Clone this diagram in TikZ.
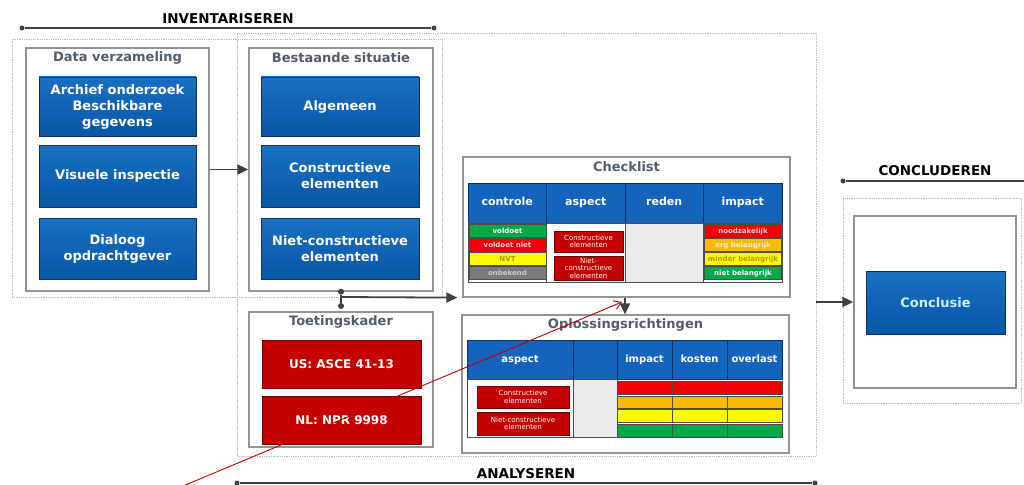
\documentclass[tikz,border=0pt]{standalone}
\usepackage{fontspec}
\setmainfont{DejaVu Sans}
\usetikzlibrary{arrows.meta,calc}

\definecolor{bluetop}{RGB}{26,112,192}
\definecolor{bluebot}{RGB}{8,86,166}
\definecolor{bluedark}{RGB}{14,48,104}
\definecolor{hdrblue}{RGB}{20,100,190}
\definecolor{redmid}{RGB}{196,0,0}
\definecolor{reddark}{RGB}{110,0,0}
\definecolor{titlegray}{RGB}{82,92,108}
\definecolor{cgreen}{RGB}{0,168,72}
\definecolor{cred}{RGB}{240,0,0}
\definecolor{cyellow}{RGB}{255,250,0}
\definecolor{corange}{RGB}{250,186,0}
\definecolor{cgray}{RGB}{122,122,122}
\definecolor{cgold}{RGB}{180,150,0}

\tikzset{
  stage/.style={draw=gray!55, densely dotted, line width=0.8pt, inner sep=0pt},
  panel/.style={draw=gray!85, fill=white, line width=1.3pt, inner sep=0pt},
  paneltitle/.style={text=titlegray, font=\bfseries\fontsize{13}{15}\selectfont},
  bluebox/.style={draw=bluedark, line width=0.8pt, top color=bluetop, bottom color=bluebot,
    text=white, align=center, inner sep=0pt, font=\bfseries\fontsize{13}{16}\selectfont},
  redbox/.style={draw=reddark, line width=0.8pt, fill=redmid, text=white, align=center,
    inner sep=0pt, font=\bfseries\fontsize{12}{14}\selectfont},
  minired/.style={redbox, font=\fontsize{7}{7.5}\selectfont},
  hdrcell/.style={draw=bluedark, line width=1pt, fill=hdrblue, text=white, inner sep=0pt,
    text height=0.75em, text depth=0.22em},
  cell/.style={draw=black!70, line width=0.8pt, inner sep=0pt, font=\bfseries\fontsize{7}{8}\selectfont,
    text height=0.75em, text depth=0.22em},
  phase/.style={font=\bfseries\fontsize{13.5}{15}\selectfont},
  phaseline/.style={draw=black!75, line width=1.1pt},
  dot/.style={circle, fill=black!75, inner sep=0pt, minimum size=6pt},
  arr/.style={-{Triangle[length=11pt,width=10pt]}, draw=black!75, line width=1.8pt},
  redarr/.style={-{Straight Barb[length=7pt,width=9pt]}, draw=red!75!black, line width=0.9pt}
}

\begin{document}
\begin{tikzpicture}[x=1pt, y=-1pt]
\useasboundingbox (0,0) rectangle (1024,484);

% phase areas
\node[stage, minimum width=430pt, minimum height=258pt] (inv) at (227,168) {};
\node[stage, minimum width=579pt, minimum height=423pt] (ana) at (526.5,244.5) {};
\node[stage, minimum width=178pt, minimum height=205pt] (con) at (932,300.5) {};

% phase labels
\node[phase] (inv-lbl) at (228,19) {INVENTARISEREN};
\node[dot, minimum size=5pt] (inv-l) at (22,28) {};
\node[dot, minimum size=5pt] (inv-r) at (434,28) {};
\draw[phaseline] (inv-l) -- (inv-r);

\node[phase] (ana-lbl) at (526,474) {ANALYSEREN};
\node[dot, minimum size=5pt] (ana-l) at (237,483) {};
\node[dot, minimum size=5pt] (ana-r) at (815,483) {};
\draw[phaseline] (ana-l) -- (ana-r);

\node[phase] (con-lbl) at (935,171) {CONCLUDEREN};
\node[dot, minimum size=5pt] (con-l) at (843,181) {};
\coordinate (con-r) at (1024,181);
\draw[phaseline] (con-l) -- (con-r);

% data verzameling
\node[panel, minimum width=183pt, minimum height=243pt] (datapanel) at (117.5,169.5) {};
\node[paneltitle] (datatitle) at (117.5,58) {Data verzameling};
\node[bluebox, minimum width=157pt, minimum height=59pt] (archief) at (117.5,106.5) {Archief onderzoek\\Beschikbare\\gegevens};
\node[bluebox, minimum width=157pt, minimum height=62pt] (visueel) at (117.5,176) {Visuele inspectie};
\node[bluebox, minimum width=157pt, minimum height=61pt] (dialoog) at (117.5,248.5) {Dialoog\\opdrachtgever};

% bestaande situatie
\node[panel, minimum width=184pt, minimum height=243pt] (bestpanel) at (341,169.5) {};
\node[paneltitle] (besttitle) at (341,58) {Bestaande situatie};
\node[bluebox, minimum width=158pt, minimum height=59pt] (algemeen) at (340,106.5) {Algemeen};
\node[bluebox, minimum width=158pt, minimum height=62pt] (constr) at (340,176) {Constructieve\\elementen};
\node[bluebox, minimum width=158pt, minimum height=61pt] (nietconstr) at (340,248.5) {Niet-constructieve\\elementen};

% toetingskader
\node[panel, minimum width=184pt, minimum height=135pt] (toetpanel) at (341,379.5) {};
\node[paneltitle] (toettitle) at (341,322) {Toetingskader};
\node[redbox, minimum width=159pt, minimum height=48pt] (asce) at (341.5,364) {US: ASCE 41-13};
\node[redbox, minimum width=159pt, minimum height=48pt] (npr) at (341.5,420) {NL: NPR 9998};

% checklist
\node[panel, minimum width=327pt, minimum height=140pt] (checkpanel) at (626.5,227) {};
\node[paneltitle] (checktitle) at (626.5,167) {Checklist};
\foreach \t/\f [count=\i from 0] in {controle/white, aspect/white, reden/black!8, impact/white} {
  \node[hdrcell, font=\bfseries\fontsize{11}{13}\selectfont, minimum width=78.5pt, minimum height=40pt]
    (chk-h\i) at ({468+78.5*(\i+0.5)},203) {\t};
  \node[cell, fill=\f, minimum width=78.5pt, minimum height=59pt] (chk-b\i) at ({468+78.5*(\i+0.5)},252.5) {};
}
\foreach \t/\f/\c [count=\j from 0] in {voldoet/cgreen/white, voldoet niet/cred/white!85!red, NVT/cyellow/cgold, onbekend/cgray/white!80!black}
  \node[cell, fill=\f, text=\c, minimum width=77pt, minimum height=12.5pt] (chk-c\j) at (507.5,{231+14*\j}) {\t};
\node[minired, minimum width=69pt, minimum height=21pt] (chk-a1) at (588.5,241.5) {Constructieve\\elementen};
\node[minired, minimum width=69pt, minimum height=24pt] (chk-a2) at (588.5,268) {Niet-\\constructieve\\elementen};
\foreach \t/\f/\c [count=\j from 0] in {noodzakelijk/cred/white!85!red, erg belangrijk/corange/white!85!orange, minder belangrijk/cyellow/cgold, niet belangrijk/cgreen/white}
  \node[cell, fill=\f, text=\c, minimum width=77pt, minimum height=12.5pt] (chk-i\j) at (743,{231+14*\j}) {\t};

% oplossingsrichtingen
\node[panel, minimum width=327pt, minimum height=138pt] (oplpanel) at (625.5,384) {};
\node[paneltitle] (opltitle) at (625.5,325) {Oplossingsrichtingen};
\foreach \t/\x/\w [count=\i] in {aspect/520/106, {}/595/44, impact/644.5/55, kosten/699.5/55, overlast/754.5/55}
  \node[hdrcell, font=\bfseries\fontsize{10}{12}\selectfont, minimum width=\w pt, minimum height=39pt] (opl-h\i) at (\x,359.5) {\t};
\node[cell, fill=white, minimum width=106pt, minimum height=58pt] (opl-b1) at (520,408) {};
\node[cell, fill=black!8, minimum width=44pt, minimum height=58pt] (opl-b2) at (595,408) {};
\node[minired, minimum width=92pt, minimum height=22pt] (opl-a1) at (523,397) {Constructieve\\elementen};
\node[minired, minimum width=92pt, minimum height=23pt] (opl-a2) at (523,423.5) {Niet-constructieve\\elementen};
\foreach \x [count=\i] in {644.5,699.5,754.5}
  \foreach \y/\h/\f [count=\j] in {387.5/13/cred, 402/12/corange, 415.5/13/cyellow, 430.5/13/cgreen}
    \node[cell, fill=\f, minimum width=55pt, minimum height=\h pt] (opl-\i-\j) at (\x,\y) {};

% concluderen
\node[panel, minimum width=162pt, minimum height=172pt] (conpanel) at (935,302) {};
\node[bluebox, text=white!80!cyan, minimum width=139pt, minimum height=63pt] (conclusie) at (935.5,302.5) {Conclusie};

% connectors
\draw[arr] (datapanel.east) -- (bestpanel.west);
\node[dot] (split-t) at (bestpanel.south) {};
\node[dot] (split-b) at (341,306) {};
\draw[phaseline, line width=1.8pt] (split-t) -- (split-b);
\coordinate (split) at (341,297);
\draw[arr, shorten >=5pt] (split) -- (checkpanel.south west);
\draw[arr] (checkpanel.south -| 625,0) -- (oplpanel.north -| 625,0);
\draw[arr] (ana.east |- conpanel.west) -- (conpanel.west);

% red annotation
\coordinate (redstart) at (183,486);
\coordinate (redtip) at (622,302);
\draw[redarr] (redstart) -- (redtip);
\end{tikzpicture}
\end{document}
